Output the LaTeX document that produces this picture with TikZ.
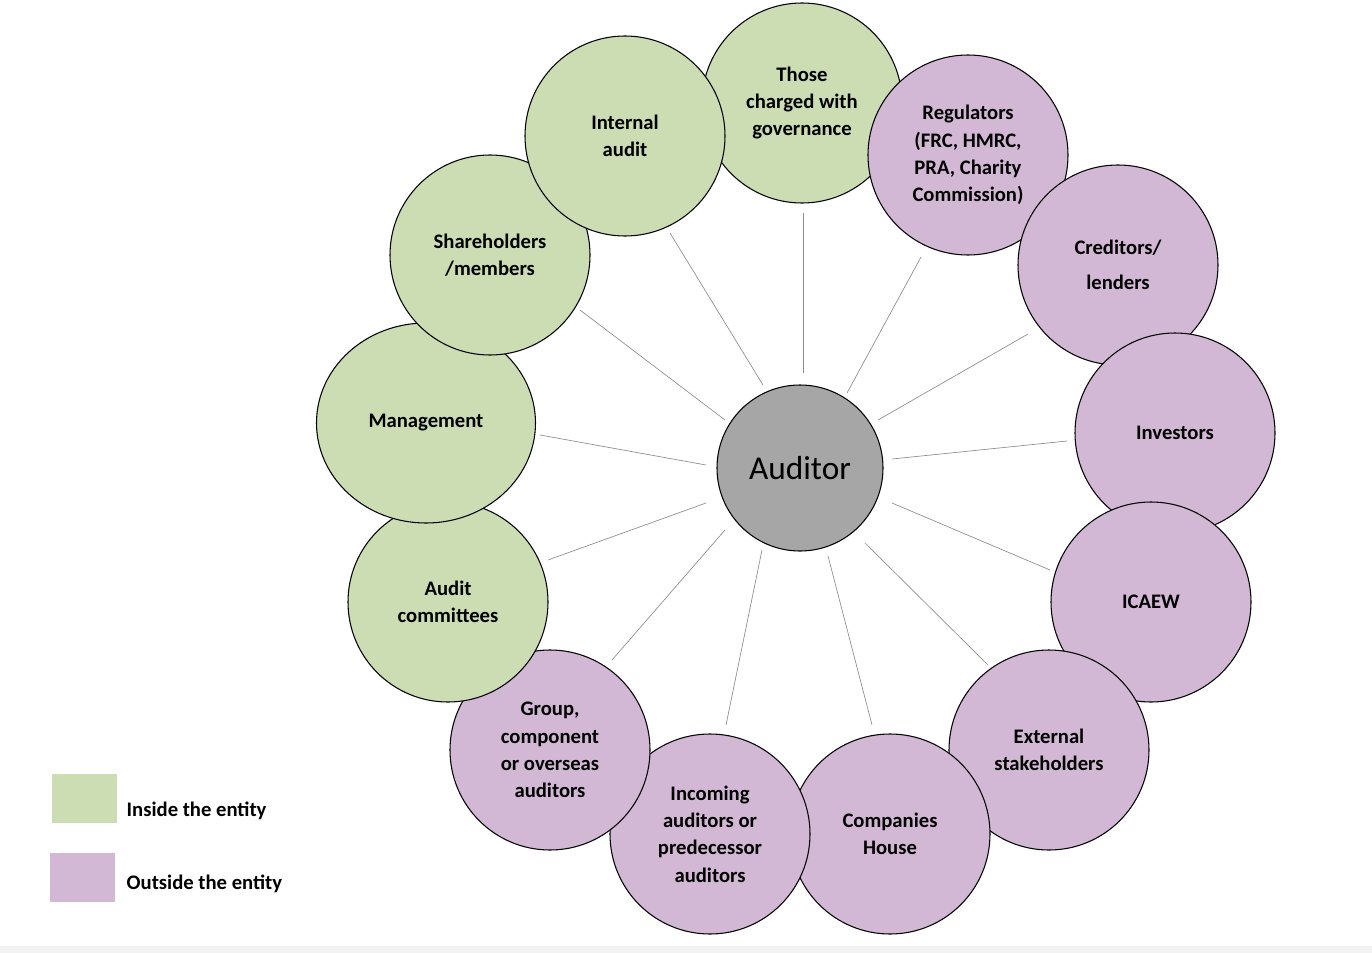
\documentclass[tikz,border=0pt]{standalone}
\usepackage{fontspec}
\usetikzlibrary{shapes.geometric}
\setmainfont{Carlito}
\begin{document}
\begin{tikzpicture}[x=0.75pt,y=-0.75pt,
 inn/.style={circle,draw=black,thick,fill=gin,minimum size=200*0.75pt,inner sep=0pt,align=center,font=\bfseries\fontsize{15.5}{20.5}\selectfont},
 outs/.style={inn,fill=gout},
 spoke/.style={draw=gray!90,line width=0.5pt}]
\definecolor{gin}{HTML}{CCDDB4}
\definecolor{gout}{HTML}{D2B8D5}
\useasboundingbox (0,0) rectangle (1372,953);
\fill[gray!10] (0,946) rectangle (1372,953);
\node[inn] (tcg) at (802,103) {Those\\charged with\\governance};
\node[outs] (reg) at (968,155) {Regulators\\(FRC, HMRC,\\PRA, Charity\\Commission)};
\node[outs] (cred) at (1118,265) {Creditors/\\[6pt]lenders};
\node[outs] (inv) at (1175,433) {Investors};
\node[outs] (ica) at (1151,602) {ICAEW};
\node[outs] (ext) at (1049,750) {External\\stakeholders};
\node[outs] (ch) at (890,834) {Companies\\House};
\node[outs] (inc) at (710,834) {Incoming\\auditors or\\predecessor\\auditors};
\node[outs] (grp) at (550,750) {Group,\\component\\or overseas\\auditors};
\node[inn] (ac) at (448,602) {Audit\\committees};
\node[inn,ellipse,minimum width=219*0.75pt,minimum height=200*0.75pt] (man) at (426,423) {Management};
\node[inn] (sh) at (490,255) {Shareholders\\/members};
\node[inn] (ia) at (625,136) {Internal\\audit};
\node[circle,draw=black,thick,fill=gray!70!white,minimum size=166*0.75pt,font=\fontsize{25}{30}\selectfont] (aud) at (800,468) {Auditor};
\foreach \n/\a/\b/\c/\d in {1/803/213/803/373, 2/670/233/763/385, 3/580/310/725/420, 4/540/435/706/465, 5/548/560/706/503, 6/612/660/725/530, 7/726/725/762/550, 8/872/725/828/556, 9/988/665/865/543, 10/1050/570/892/503, 11/1067/441/892/459, 12/1028/334/878/420, 13/921/257/847/393}{
 \coordinate (s\n) at (\a,\b); \coordinate (e\n) at (\c,\d);
 \draw[spoke] (s\n) -- (e\n);}
\node[fill=gin,minimum width=65*0.75pt,minimum height=49*0.75pt,inner sep=0pt] (lg) at (84.5,798.5) {};
\node[fill=gout,minimum width=65*0.75pt,minimum height=49*0.75pt,inner sep=0pt] (lp) at (82.5,877.5) {};
\node[anchor=west,font=\bfseries\fontsize{15.5}{18}\selectfont] (lgt) at (122,811) {Inside the entity};
\node[anchor=west,font=\bfseries\fontsize{15.5}{18}\selectfont] (lpt) at (122,884) {Outside the entity};
\end{tikzpicture}
\end{document}
